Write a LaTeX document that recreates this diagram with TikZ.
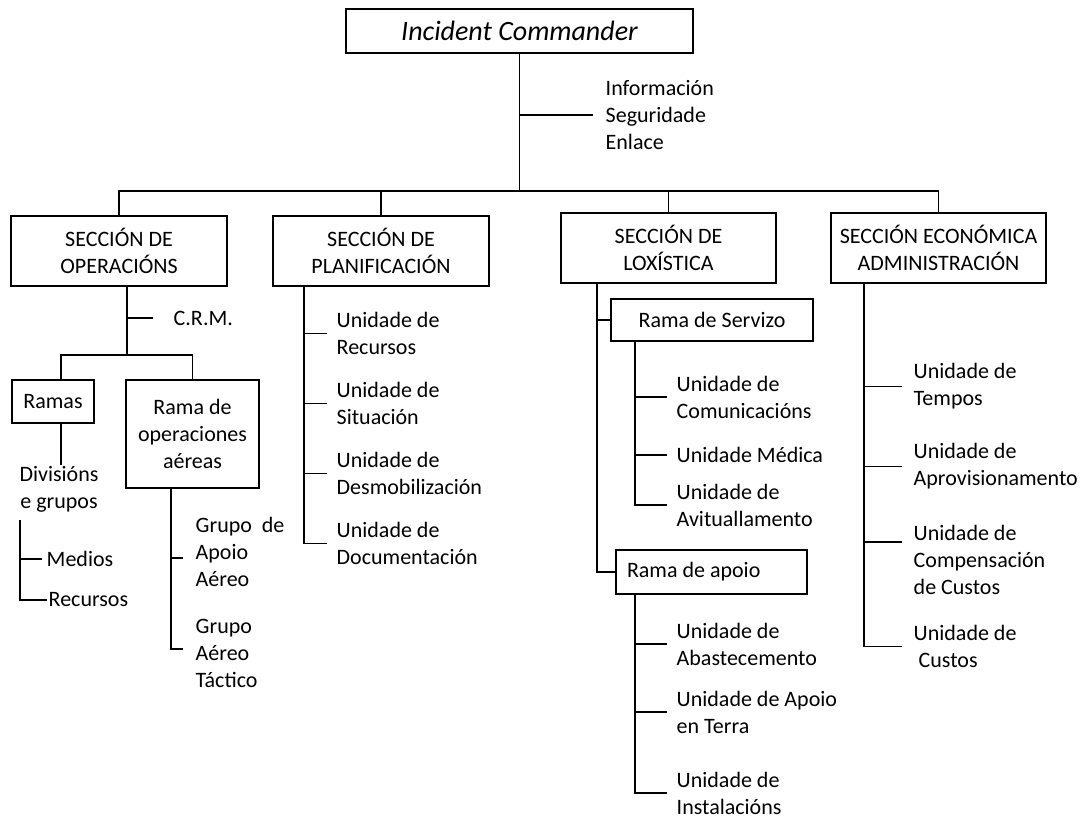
\documentclass[tikz,border=0pt]{standalone}
\usepackage{fontspec}
\setmainfont{Carlito}
\begin{document}
\begin{tikzpicture}[x=1pt,y=-1pt,
  line width=1.4pt,
  every node/.style={font=\fontsize{22}{27}\selectfont},
  box/.style={draw, inner sep=0pt, align=center},
  lbl/.style={anchor=west, align=left, inner xsep=9pt, inner ysep=0pt}]
\useasboundingbox (0,0) rectangle (1082,820);

% ---------- top ----------
\node[box, minimum width=347pt, minimum height=44pt, font=\fontsize{28}{34}\selectfont\itshape] (ic) at (519.5,31) {Incident Commander};
\node[lbl, inner xsep=12pt] (info) at (593,115) {Información\\Seguridade\\Enlace};
\coordinate (bus) at (519.5,191);
\draw (ic.south) -- (bus);
\draw (ic.south |- info.west) -- (info.west);

% ---------- sections ----------
\node[box, minimum width=216pt, minimum height=70pt] (ops) at (119,251) {SECCIÓN DE\\OPERACIÓNS};
\node[box, minimum width=216pt, minimum height=70pt] (plan) at (381,251) {SECCIÓN DE\\PLANIFICACIÓN};
\node[box, minimum width=215pt, minimum height=70pt] (lox) at (668.5,248) {SECCIÓN DE\\LOXÍSTICA};
\node[box, minimum width=215pt, minimum height=70pt] (eco) at (938.5,248) {SECCIÓN ECONÓMICA\\ADMINISTRACIÓN};
\draw (ops.north) |- (bus) -| (eco.north);
\draw (plan.north) -- (plan.north |- bus);
\draw (lox.north) -- (lox.north |- bus);

% ---------- operations ----------
\coordinate (opsj) at (127,355);
\draw ([xshift=8pt]ops.south) -- (opsj);
\node[lbl, inner xsep=20pt] (crm) at (153,318) {C.R.M.};
\draw (opsj |- crm.west) -- (crm.west);
\node[box, minimum width=82pt, minimum height=43pt] (ramas) at (53,401.5) {Ramas};
\node[box, minimum width=133pt, minimum height=108pt] (aereas) at (192.5,434) {Rama de\\operaciones\\aéreas};
\draw ([xshift=8pt]ramas.north) |- (opsj) -| (aereas.north);
\node[align=center, inner sep=0pt] (div) at (59,489) {Divisións\\e grupos};
\coordinate (rb) at ([xshift=8pt]ramas.south);
\draw (rb) -- (rb |- div.north);
\coordinate (mrtop) at (20,520);
\node[lbl, inner xsep=4pt] (medios) at (42,559) {Medios};
\node[lbl, inner xsep=1pt] (recursos) at (47,600) {Recursos};
\draw (mrtop) |- (recursos.west);
\draw (mrtop |- medios.west) -- (medios.west);

\node[lbl, inner xsep=12pt] (g1) at (183,552) {Grupo\ \ de\\Apoio\\Aéreo};
\node[lbl, inner xsep=12pt] (g2) at (183,653) {Grupo\\Aéreo\\Táctico};
\coordinate (asp) at ([xshift=-21.5pt]aereas.south);
\coordinate (g1t) at ([yshift=-6pt]g1.west);
\coordinate (g2t) at ([yshift=4pt]g2.west);
\draw (asp) |- (g2t);
\draw (asp |- g1t) -- (g1t);

% ---------- planning ----------
\node[lbl] (p1) at (327,333.5) {Unidade de\\Recursos};
\node[lbl] (p2) at (327,403.5) {Unidade de\\Situación};
\node[lbl] (p3) at (327,473.5) {Unidade de\\Desmobilización};
\node[lbl] (p4) at (327,543.5) {Unidade de\\Documentación};
\coordinate (ps) at ([xshift=-77pt]plan.south);
\draw (ps) |- (p4.west);
\foreach \n in {p1,p2,p3} \draw (ps |- \n.west) -- (\n.west);

% ---------- logistics ----------
\node[box, minimum width=202pt, minimum height=42pt] (serv) at (712,320) {Rama de Servizo};
\node[box, minimum width=191pt, minimum height=44pt, text width=169pt, align=flush left] (apoio) at (711.5,572) {Rama de apoio};
\coordinate (ls) at ([xshift=-71.5pt]lox.south);
\draw (ls) |- (apoio.west);
\draw (ls |- serv.west) -- (serv.west);

\node[lbl] (s1) at (667,397) {Unidade de\\Comunicacións};
\node[lbl] (s2) at (667,455) {Unidade Médica};
\node[lbl] (s3) at (667,505) {Unidade de\\Avituallamento};
\coordinate (ss) at ([xshift=-77pt]serv.south);
\draw (ss) |- (s3.west);
\foreach \n in {s1,s2} \draw (ss |- \n.west) -- (\n.west);

\node[lbl] (a1) at (667,644) {Unidade de\\Abastecemento};
\node[lbl] (a2) at (667,712) {Unidade de Apoio\\en Terra};
\node[lbl] (a3) at (667,793) {Unidade de\\Instalacións};
\coordinate (aps) at ([xshift=-76.5pt]apoio.south);
\draw (aps) |- (a3.west);
\foreach \n in {a1,a2} \draw (aps |- \n.west) -- (\n.west);

% ---------- economic ----------
\node[lbl, inner xsep=11pt] (e1) at (902,386.5) {Unidade de\\Tempos};
\node[lbl, inner xsep=11pt] (e2) at (902,466.5) {Unidade de\\Aprovisionamento};
\node[lbl, inner xsep=11pt] (e3) at (902,560) {Unidade de\\Compensación\\de Custos};
\node[lbl, inner xsep=11pt] (e4) at (902,646.5) {Unidade de\\\ Custos};
\coordinate (es) at ([xshift=-74.5pt]eco.south);
\coordinate (e3t) at ([yshift=18pt]e3.west);
\draw (es) |- (e4.west);
\draw (es |- e1.west) -- (e1.west);
\draw (es |- e2.west) -- (e2.west);
\draw (es |- e3t) -- (e3t);
\end{tikzpicture}
\end{document}
